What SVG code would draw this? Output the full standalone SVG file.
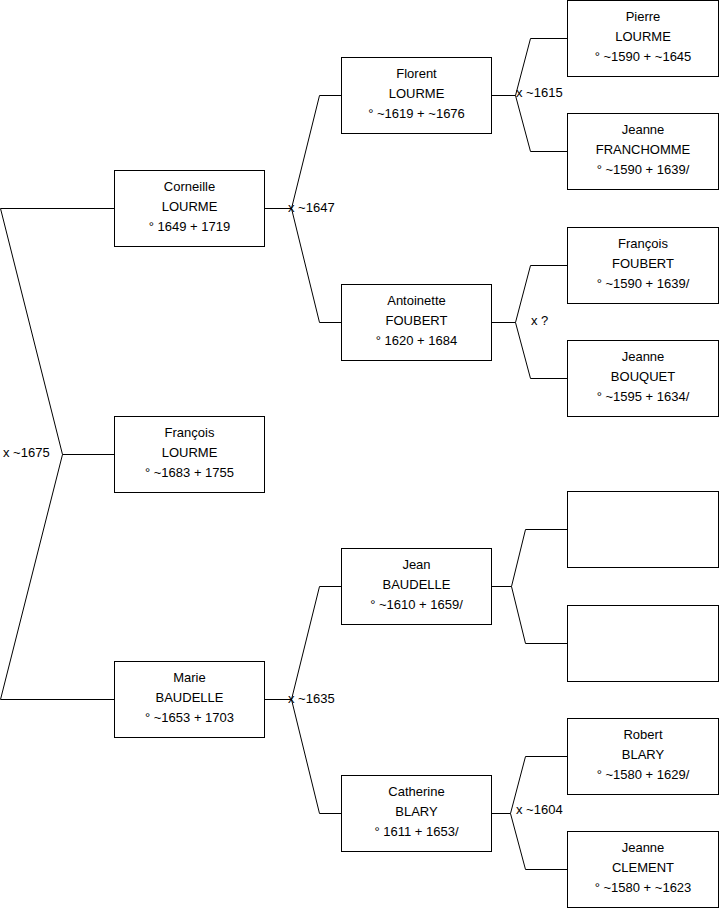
<svg xmlns="http://www.w3.org/2000/svg" width="719" height="908" viewBox="0 0 719 908">
<style>
.box{fill:#fff;stroke:#000;stroke-width:1}
.t{font-family:"Liberation Sans",Arial,sans-serif;font-size:13px;fill:#000;text-anchor:middle}
.l{font-family:"Liberation Sans",Arial,sans-serif;font-size:13px;fill:#000}
.c{fill:none;stroke:#000;stroke-width:1}
</style>
<rect width="719" height="908" fill="#fff"/>
<g id="connectors">
<path class="c" d="M114.5,208.5 H0.5 L62.5,454.5 L0.5,699.5 H114.5 M62.5,454.5 H114.5"/>
<path class="c" d="M264.5,208.5 H291.5 M341.5,95.5 H319.5 L291.5,208.5 L319.5,322.5 H341.5"/>
<path class="c" d="M491.5,95.5 H515.5 M567.5,38.5 H530.5 L515.5,95.5 L530.5,151.5 H567.5"/>
<path class="c" d="M491.5,322.5 H515.5 M567.5,265.5 H530.5 L515.5,322.5 L530.5,378.5 H567.5"/>
<path class="c" d="M491.5,586.5 H511.5 M567.5,529.5 H525.5 L511.5,586.5 L525.5,643.5 H567.5"/>
<path class="c" d="M264.5,699.5 H291.5 M341.5,586.5 H319.5 L291.5,699.5 L319.5,813.5 H341.5"/>
<path class="c" d="M491.5,813.5 H510.5 M567.5,756.5 H525.5 L510.5,813.5 L525.5,869.5 H567.5"/>
<text class="l" x="3" y="457">x ~1675</text>
<text class="l" x="288" y="212">x ~1647</text>
<text class="l" x="516" y="97">x ~1615</text>
<text class="l" x="531" y="325">x ?</text>
<text class="l" x="288" y="703">x ~1635</text>
<text class="l" x="516" y="814">x ~1604</text>
</g>
<g id="corneille"><rect class="box" x="114.5" y="170.5" width="150" height="76"/>
<text class="t" x="189.5" y="191">Corneille</text><text class="t" x="189.5" y="211">LOURME</text><text class="t" x="189.5" y="231">° 1649 + 1719</text></g>
<g id="francois"><rect class="box" x="114.5" y="416.5" width="150" height="76"/>
<text class="t" x="189.5" y="437">François</text><text class="t" x="189.5" y="457">LOURME</text><text class="t" x="189.5" y="477">° ~1683 + 1755</text></g>
<g id="marie"><rect class="box" x="114.5" y="661.5" width="150" height="76"/>
<text class="t" x="189.5" y="682">Marie</text><text class="t" x="189.5" y="702">BAUDELLE</text><text class="t" x="189.5" y="722">° ~1653 + 1703</text></g>
<g id="florent"><rect class="box" x="341.5" y="57.5" width="150" height="76"/>
<text class="t" x="416.5" y="78">Florent</text><text class="t" x="416.5" y="98">LOURME</text><text class="t" x="416.5" y="118">° ~1619 + ~1676</text></g>
<g id="antoinette"><rect class="box" x="341.5" y="284.5" width="150" height="76"/>
<text class="t" x="416.5" y="305">Antoinette</text><text class="t" x="416.5" y="325">FOUBERT</text><text class="t" x="416.5" y="345">° 1620 + 1684</text></g>
<g id="jean"><rect class="box" x="341.5" y="548.5" width="150" height="76"/>
<text class="t" x="416.5" y="569">Jean</text><text class="t" x="416.5" y="589">BAUDELLE</text><text class="t" x="416.5" y="609">° ~1610 + 1659/</text></g>
<g id="catherine"><rect class="box" x="341.5" y="775.5" width="150" height="76"/>
<text class="t" x="416.5" y="796">Catherine</text><text class="t" x="416.5" y="816">BLARY</text><text class="t" x="416.5" y="836">° 1611 + 1653/</text></g>
<g id="pierre"><rect class="box" x="567.5" y="0.5" width="151" height="76"/>
<text class="t" x="643" y="21">Pierre</text><text class="t" x="643" y="41">LOURME</text><text class="t" x="643" y="61">° ~1590 + ~1645</text></g>
<g id="jeanne-franchomme"><rect class="box" x="567.5" y="113.5" width="151" height="76"/>
<text class="t" x="643" y="134">Jeanne</text><text class="t" x="643" y="154">FRANCHOMME</text><text class="t" x="643" y="174">° ~1590 + 1639/</text></g>
<g id="francois-foubert"><rect class="box" x="567.5" y="227.5" width="151" height="76"/>
<text class="t" x="643" y="248">François</text><text class="t" x="643" y="268">FOUBERT</text><text class="t" x="643" y="288">° ~1590 + 1639/</text></g>
<g id="jeanne-bouquet"><rect class="box" x="567.5" y="340.5" width="151" height="76"/>
<text class="t" x="643" y="361">Jeanne</text><text class="t" x="643" y="381">BOUQUET</text><text class="t" x="643" y="401">° ~1595 + 1634/</text></g>
<g id="empty1"><rect class="box" x="567.5" y="491.5" width="151" height="76"/></g>
<g id="empty2"><rect class="box" x="567.5" y="605.5" width="151" height="76"/></g>
<g id="robert"><rect class="box" x="567.5" y="718.5" width="151" height="76"/>
<text class="t" x="643" y="739">Robert</text><text class="t" x="643" y="759">BLARY</text><text class="t" x="643" y="779">° ~1580 + 1629/</text></g>
<g id="jeanne-clement"><rect class="box" x="567.5" y="831.5" width="151" height="76"/>
<text class="t" x="643" y="852">Jeanne</text><text class="t" x="643" y="872">CLEMENT</text><text class="t" x="643" y="892">° ~1580 + ~1623</text></g>
</svg>
